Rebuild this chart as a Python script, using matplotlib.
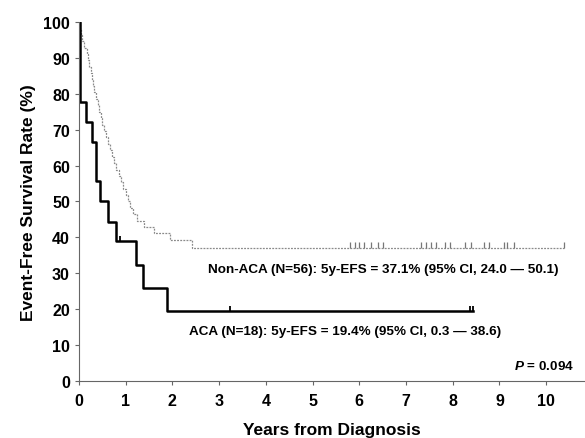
import matplotlib.pyplot as plt

# Kaplan-Meier step data (years, survival %)
aca_times = [0, 0.02, 0.15, 0.27, 0.37, 0.45, 0.63, 0.80, 1.22, 1.37, 1.88, 8.44]
aca_surv = [100, 77.8, 72.2, 66.7, 55.6, 50.0, 44.4, 38.9, 32.4, 25.9, 19.4, 19.4]
aca_censor_t = [0.87, 3.24, 8.36, 8.44]
aca_censor_s = [38.9, 19.4, 19.4, 19.4]

non_times = [0, 0.03, 0.05, 0.07, 0.10, 0.17, 0.20, 0.22, 0.25, 0.28, 0.30,
             0.32, 0.36, 0.40, 0.43, 0.47, 0.50, 0.53, 0.57, 0.62, 0.66,
             0.71, 0.76, 0.80, 0.85, 0.90, 0.95, 1.00, 1.05, 1.10, 1.15,
             1.25, 1.40, 1.60, 1.95, 2.42, 10.39]
non_surv = [100, 98.2, 96.4, 94.6, 92.9, 91.1, 89.3, 87.5, 85.7, 83.9, 82.1,
            80.4, 78.6, 76.8, 75.0, 73.2, 71.4, 69.6, 67.9, 66.1, 64.3,
            62.5, 60.7, 58.9, 57.1, 55.4, 53.6, 51.8, 50.0, 48.2, 46.4,
            44.6, 42.9, 41.1, 39.3, 37.1, 37.1]
non_censor = [5.79, 5.90, 6.00, 6.10, 6.24, 6.39, 6.50, 7.32, 7.43, 7.54,
              7.65, 7.84, 7.95, 8.27, 8.38, 8.66, 8.77, 9.09, 9.16, 9.31, 10.39]

plt.rcParams['font.family'] = ['Liberation Sans', 'DejaVu Sans']
plt.rcParams['mathtext.fontset'] = 'custom'
plt.rcParams['mathtext.it'] = 'Liberation Sans:italic:bold'

fig = plt.figure(figsize=(5.85, 4.39), dpi=100)
ax = fig.add_axes([0.135, 0.130, 0.865, 0.8175])

up_tick = [(0, 0), (0, 1)]

ax.step(non_times, non_surv, where='post', color='#8a8a8a', lw=0.9,
        linestyle=(0, (1.5, 1)))
ax.plot(non_censor, [37.1] * len(non_censor), linestyle='none', marker=up_tick,
        color='#777777', markersize=8, markeredgewidth=0.9)

ax.step(aca_times, aca_surv, where='post', color='black', lw=1.8)
ax.plot(aca_censor_t, aca_censor_s, linestyle='none', marker=up_tick,
        color='black', markersize=7, markeredgewidth=1.3)

ax.text(2.77, 31.2, 'Non-ACA (N=56): 5y-EFS = 37.1% (95% CI, 24.0 \u2014 50.1)',
        fontsize=9.7, fontweight='bold', va='center')
ax.text(2.35, 13.8, 'ACA (N=18): 5y-EFS = 19.4% (95% CI, 0.3 \u2014 38.6)',
        fontsize=9.7, fontweight='bold', va='center')
ax.text(10.6, 4.2, '$\\it{P}$ = 0.094', fontsize=9.7, fontweight='bold',
        va='center', ha='right')

ax.set_xlim(0, 10.83)
ax.set_ylim(0, 100)
ax.set_xticks(range(0, 11))
ax.set_yticks(range(0, 101, 10))
for lbl in ax.get_xticklabels() + ax.get_yticklabels():
    lbl.set_fontweight('bold')
    lbl.set_fontsize(11.5)

ax.spines['top'].set_visible(False)
ax.spines['right'].set_visible(False)
for side in ['left', 'bottom']:
    ax.spines[side].set_color('#666666')
    ax.spines[side].set_linewidth(0.8)
    ax.spines[side].set_linestyle((0, (2, 1)))
ax.spines['left'].set_bounds(0, 100)
ax.tick_params(direction='out', length=3, width=0.8, color='#666666')
ax.tick_params(axis='x', pad=6)

ax.set_xlabel('Years from Diagnosis', fontsize=12.5, fontweight='bold', labelpad=10)
ax.set_ylabel('Event-Free Survival Rate (%)', fontsize=12.5, fontweight='bold',
              labelpad=5)

fig.savefig('out.png', dpi=100)
